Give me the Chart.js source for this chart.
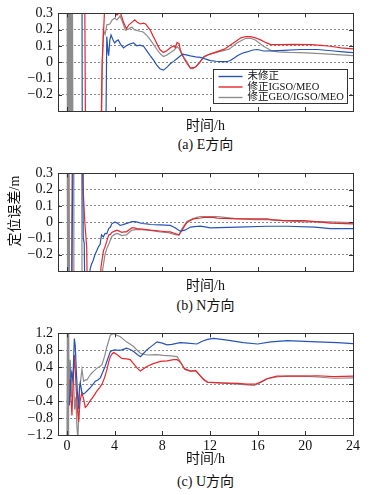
<!DOCTYPE html>
<html lang="zh">
<head>
    <meta charset="utf-8" />
    <title>定位误差</title>
    <style>
        body { margin: 0; background: #fff; }
        #fig { position: relative; width: 376px; height: 495px; background: #fff;
               font-family: "Liberation Serif", "Noto Sans CJK SC", serif; color: #111; }
        #fig canvas { position: absolute; left: 0; }
        .caption { position: absolute; left: 58px; width: 295px; text-align: center;
                   font-size: 14px; line-height: 16px; }
        .ytitle { position: absolute; left: -35px; top: 203px; width: 100px; height: 16px;
                  line-height: 16px; font-size: 14px; text-align: center; transform: rotate(-90deg); }
    </style>
</head>
<body>
    <div id="fig">
        <canvas id="cE" width="376" height="135" style="top:0"></canvas>
        <canvas id="cN" width="376" height="135" style="top:160px"></canvas>
        <canvas id="cU" width="376" height="150" style="top:320px"></canvas>
        <div class="caption" style="top:137px">(a) E方向</div>
        <div class="caption" style="top:298px">(b) N方向</div>
        <div class="caption" style="top:474px">(c) U方向</div>
        <div class="ytitle">定位误差/m</div>
    </div>

    <script src="https://cdn.jsdelivr.net/npm/chart.js@4.4.0/dist/chart.umd.min.js"></script>
    <script>
        // series names
        const seriesNames = ["未修正", "修正IGSO/MEO", "修正GEO/IGSO/MEO"];

        // time axis (h)
        const xTicks = [0, 4, 8, 12, 16, 20, 24];
        const xTickLabels = ["0", "4", "8", "12", "16", "20", "24"];

        // y ticks
        const enTicks = [-0.3, -0.2, -0.1, 0, 0.1, 0.2, 0.3];
        const enTickLabels = ["", "\u22120.2", "\u22120.1", "0", "0.1", "0.2", "0.3"];
        const uTicks = [-1.2, -0.8, -0.4, 0, 0.4, 0.8, 1.2];
        const uTickLabels = ["\u22121.2", "\u22120.8", "\u22120.4", "0", "0.4", "0.8", "1.2"];

        // E direction [t, error]
        const eBlue = [[0,1],[1.25,1],[1.3,-1],[3.2,-1],[3.34,0.157],[3.45,0.06],[3.5,0.04],[3.6,0.137],[3.7,0.167],
            [3.85,0.14],[4.0,0.118],[4.15,0.13],[4.3,0.137],[4.5,0.11],[4.75,0.088],[4.95,0.1],[5.17,0.108],[5.4,0.115],
            [5.6,0.118],[5.87,0.1],[6.1,0.105],[6.43,0.098],[6.7,0.07],[7.0,0.039],[7.3,0.01],[7.55,-0.02],[7.8,-0.04],
            [8.1,-0.049],[8.4,-0.03],[8.67,-0.01],[8.95,0.005],[9.2,0.02],[9.45,0.035],[9.7,0.05],[10.0,0.045],[10.36,0.039],
            [10.8,0.033],[11.2,0.03],[11.6,0.02],[12.04,0.01],[12.5,0.006],[12.9,0.004],[13.4,0.003],[13.7,0.01],[14.0,0.025],
            [14.3,0.04],[14.7,0.055],[15.1,0.063],[15.6,0.075],[16.0,0.078],[16.5,0.069],[17.2,0.07],[18.2,0.073],[19.6,0.078],
            [21.0,0.078],[22.4,0.069],[23.2,0.064],[24.0,0.059]];
        const eRed = [[0,1],[1.45,1],[1.6,-1],[2.75,-1],[2.95,0.0],[3.15,0.31],[3.5,0.34],[3.9,0.32],[4.2,0.29],[4.45,0.31],
            [4.6,0.28],[4.75,0.245],[4.9,0.22],[5.0,0.206],[5.2,0.23],[5.45,0.245],[5.7,0.26],[5.9,0.245],[6.15,0.235],[6.4,0.24],
            [6.6,0.235],[6.8,0.215],[7.0,0.196],[7.2,0.165],[7.4,0.137],[7.6,0.105],[7.8,0.078],[8.1,0.06],[8.3,0.068],[8.5,0.078],
            [8.7,0.09],[8.95,0.1],[9.1,0.09],[9.24,0.12],[9.4,0.115],[9.5,0.08],[9.65,0.05],[9.85,0.02],[10.1,-0.01],[10.36,-0.035],
            [10.5,-0.035],[10.8,-0.03],[11.1,-0.005],[11.5,0.035],[12.0,0.05],[12.6,0.065],[13.2,0.08],[13.6,0.1],[14.0,0.12],
            [14.6,0.15],[15.0,0.158],[15.4,0.157],[15.8,0.15],[16.25,0.137],[16.7,0.12],[17.1,0.108],[17.9,0.108],[19.0,0.11],
            [20.5,0.108],[21.3,0.104],[22.1,0.098],[23.0,0.088],[24.0,0.082]];
        const eGray = [[0,1],[0.06,-1],[0.13,1],[0.2,-1],[0.28,1],[0.36,-1],[0.44,1],[0.52,-1],[2.8,-1],[2.95,-0.1],[3.05,0.2],
            [3.2,0.17],[3.35,0.23],[3.6,0.235],[3.8,0.26],[4.0,0.27],[4.2,0.26],[4.46,0.284],[4.7,0.24],[4.9,0.196],[5.2,0.205],
            [5.45,0.216],[5.65,0.2],[5.87,0.196],[6.1,0.19],[6.4,0.186],[6.7,0.165],[7.0,0.137],[7.3,0.105],[7.55,0.078],[7.85,0.05],
            [8.1,0.035],[8.4,0.045],[8.7,0.059],[9.0,0.075],[9.24,0.095],[9.4,0.085],[9.66,0.045],[10.1,0.0],[10.36,-0.04],
            [10.6,-0.04],[10.9,-0.02],[11.5,0.03],[12.0,0.05],[12.8,0.065],[13.6,0.08],[14.3,0.12],[15.0,0.147],[15.4,0.147],
            [15.8,0.137],[16.5,0.098],[17.2,0.069],[17.7,0.063],[18.6,0.06],[19.6,0.059],[21.3,0.053],[23.0,0.045],[24.0,0.04]];

        // N direction [t, error]
        const nBlue = [[0.3,-1],[0.6,1],[1.25,1],[1.37,-0.098],[1.45,-0.13],[1.6,-1],[1.9,-1],[1.94,-0.29],[2.05,-0.26],
            [2.2,-0.235],[2.35,-0.2],[2.5,-0.176],[2.65,-0.15],[2.78,-0.137],[2.9,-0.078],[3.05,-0.09],[3.2,-0.069],[3.35,-0.07],
            [3.5,-0.039],[3.65,-0.03],[3.76,-0.01],[4.0,0.0],[4.2,-0.004],[4.46,-0.02],[4.7,-0.015],[4.9,-0.01],[5.2,-0.003],
            [5.45,0.004],[5.7,0.004],[5.9,0.0],[6.3,-0.008],[6.7,-0.01],[7.0,-0.014],[7.8,-0.016],[8.67,-0.02],[8.95,-0.03],
            [9.2,-0.04],[9.5,-0.055],[9.9,-0.049],[10.36,-0.03],[10.7,-0.027],[11.2,-0.024],[11.7,-0.03],[12.04,-0.035],
            [14.3,-0.03],[16.8,-0.025],[18.5,-0.025],[20.8,-0.03],[22.1,-0.039],[24.0,-0.04]];
        const nRed = [[0,-1],[0.35,-1],[0.42,0.02],[0.48,1],[1.3,1],[1.37,0.186],[1.5,0.0],[1.66,-0.157],[1.8,-1],[2.75,-1],
            [2.85,-0.28],[3.06,-0.176],[3.2,-0.15],[3.34,-0.118],[3.5,-0.078],[3.65,-0.075],[3.76,-0.063],[4.0,-0.055],
            [4.2,-0.049],[4.4,-0.055],[4.6,-0.063],[4.8,-0.06],[5.0,-0.059],[5.25,-0.045],[5.45,-0.035],[5.65,-0.035],
            [5.87,-0.039],[6.3,-0.043],[7.0,-0.049],[7.8,-0.054],[8.4,-0.059],[8.67,-0.06],[9.0,-0.068],[9.4,-0.078],
            [9.66,-0.049],[9.9,-0.02],[10.1,0.0],[10.36,0.01],[10.6,0.02],[11.2,0.026],[11.5,0.03],[12.3,0.03],[12.6,0.025],
            [14.3,0.02],[16.8,0.02],[17.1,0.016],[18.2,0.01],[19.9,0.01],[21.3,0.0],[22.1,-0.006],[24.0,-0.01]];
        const nGray = [[0,1],[0.08,-1],[0.16,1],[0.24,-1],[0.52,-1],[0.58,1],[1.2,1],[1.3,-1],[2.7,-1],[3.0,-0.29],
            [3.2,-0.196],[3.35,-0.16],[3.5,-0.137],[3.65,-0.11],[3.76,-0.088],[4.0,-0.075],[4.2,-0.069],[4.4,-0.075],
            [4.6,-0.082],[4.8,-0.08],[5.0,-0.078],[5.25,-0.06],[5.45,-0.049],[5.8,-0.046],[6.1,-0.045],[7.0,-0.05],
            [7.8,-0.059],[8.5,-0.065],[9.2,-0.078],[9.4,-0.08],[9.66,-0.039],[10.06,0.005],[10.6,0.022],[10.9,0.03],
            [11.2,0.035],[11.5,0.035],[12.6,0.035],[14.0,0.024],[15.7,0.016],[16.8,0.016],[18.5,0.008],[19.9,0.002],
            [21.3,0.004],[24.0,-0.003]];

        // U direction [t, error]
        const uBlue = [[0.2,-0.5],[0.35,0.3],[0.5,0.1],[0.62,1.08],[0.7,0.9],[0.78,0.35],[0.88,-0.2],[0.97,-0.58],[1.05,-0.1],
            [1.12,0.03],[1.26,-0.2],[1.4,-0.23],[1.55,-0.2],[1.68,-0.16],[1.96,-0.08],[2.2,0.0],[2.38,0.07],[2.6,0.1],[2.8,0.15],
            [3.0,0.28],[3.2,0.42],[3.45,0.62],[3.64,0.77],[3.85,0.8],[4.06,0.81],[4.3,0.8],[4.6,0.81],[4.8,0.83],[5.0,0.85],
            [5.3,0.82],[5.6,0.77],[5.9,0.7],[6.16,0.65],[6.4,0.72],[6.7,0.81],[7.1,0.9],[7.56,1.0],[8.0,0.97],[8.4,0.93],
            [8.8,0.94],[9.5,0.98],[10.1,0.97],[10.9,0.95],[11.4,1.02],[11.8,1.06],[12.3,1.08],[13.45,1.04],[14.8,0.98],
            [16.0,0.95],[17.1,1.0],[18.5,1.03],[21.0,1.0],[22.7,0.98],[24.0,0.96]];
        const uRed = [[0.25,0.1],[0.42,-0.74],[0.55,0.3],[0.62,0.69],[0.72,0.2],[0.85,-0.5],[0.98,-0.89],[1.1,-0.4],[1.25,-0.2],
            [1.4,-0.35],[1.54,-0.55],[1.7,-0.5],[1.96,-0.39],[2.2,-0.3],[2.52,-0.16],[2.75,-0.08],[2.94,0.0],[3.15,0.15],
            [3.36,0.35],[3.5,0.52],[3.64,0.65],[3.8,0.72],[3.92,0.75],[4.2,0.7],[4.6,0.61],[5.0,0.6],[5.3,0.58],[5.6,0.48],
            [5.9,0.38],[6.16,0.31],[6.4,0.36],[6.7,0.42],[7.2,0.48],[7.84,0.54],[8.4,0.55],[8.96,0.58],[9.24,0.58],[9.4,0.55],
            [9.66,0.46],[9.9,0.35],[10.36,0.31],[10.8,0.32],[11.2,0.19],[11.5,0.1],[11.8,0.05],[12.9,0.03],[14.3,0.02],
            [15.1,0.0],[15.8,0.0],[16.25,0.05],[16.8,0.13],[17.6,0.19],[19.9,0.19],[21.0,0.2],[22.4,0.18],[24.0,0.19]];
        const uGray = [[0,-1.5],[0.04,1.5],[0.09,-1.5],[0.14,1.5],[0.19,-0.4],[0.28,0.58],[0.36,-0.3],[0.45,0.3],[0.55,0.1],
            [0.65,-0.6],[0.75,-0.3],[0.83,-0.97],[0.92,-1.3],[1.05,-0.2],[1.15,0.1],[1.26,0.35],[1.4,0.07],[1.55,0.1],
            [1.68,0.1],[1.9,0.2],[2.1,0.27],[2.3,0.32],[2.52,0.38],[2.75,0.42],[2.94,0.46],[3.15,0.65],[3.36,0.89],[3.5,1.02],
            [3.64,1.16],[3.92,1.2],[4.1,1.17],[4.48,1.12],[5.0,1.0],[5.6,0.89],[5.9,0.8],[6.16,0.73],[6.7,0.69],[7.5,0.7],
            [8.1,0.68],[8.7,0.67],[9.24,0.65],[9.5,0.54],[9.8,0.38],[10.36,0.31],[10.8,0.32],[11.4,0.14],[11.8,0.04],
            [12.9,0.03],[14.3,0.0],[15.7,-0.03],[16.1,0.02],[16.8,0.13],[17.6,0.17],[18.5,0.19],[19.9,0.19],[21.0,0.17],
            [22.4,0.14],[24.0,0.15]];

        const colors = ["#2754b4", "#e8262c", "#8c8c8c"];
        const fontFamily = '"Liberation Serif", "Noto Sans CJK SC", serif';
        Chart.defaults.font.family = fontFamily;
        Chart.defaults.color = "#111";

        const toPoints = arr => arr.map(p => ({ x: p[0], y: p[1] }));

        // frame + inward tick marks
        const framePlugin = {
            id: "frame",
            afterDatasetsDraw(chart) {
                const { ctx, chartArea: a, scales } = chart;
                ctx.save();
                ctx.strokeStyle = "#333";
                ctx.lineWidth = 1;
                ctx.beginPath();
                scales.x.ticks.forEach(t => {
                    const px = Math.round(scales.x.getPixelForValue(t.value)) + 0.5;
                    ctx.moveTo(px, a.top); ctx.lineTo(px, a.top + 4);
                    ctx.moveTo(px, a.bottom); ctx.lineTo(px, a.bottom - 4);
                });
                scales.y.ticks.forEach(t => {
                    const py = Math.round(scales.y.getPixelForValue(t.value)) + 0.5;
                    ctx.moveTo(a.left, py); ctx.lineTo(a.left + 4, py);
                    ctx.moveTo(a.right, py); ctx.lineTo(a.right - 4, py);
                });
                ctx.stroke();
                ctx.strokeRect(Math.round(a.left) + 0.5, Math.round(a.top) + 0.5,
                    Math.round(a.right - a.left), Math.round(a.bottom - a.top));
                ctx.restore();
            }
        };

        // legend box inside the plot
        const boxLegend = {
            id: "boxLegend",
            afterDraw(chart, args, opts) {
                if (!opts.show) return;
                const { ctx, chartArea: a } = chart;
                const w = 134, h = 34;
                const x0 = Math.round(a.right - 6 - w) + 0.5, y0 = Math.round(a.bottom - 8 - h) + 0.5;
                ctx.save();
                ctx.fillStyle = "#fff";
                ctx.fillRect(x0, y0, w, h);
                ctx.strokeStyle = "#333";
                ctx.lineWidth = 1;
                ctx.strokeRect(x0, y0, w, h);
                ctx.font = "10.5px " + fontFamily;
                ctx.textBaseline = "middle";
                chart.data.datasets.forEach((ds, i) => {
                    const y = y0 + 7 + i * 10.5;
                    ctx.strokeStyle = ds.borderColor;
                    ctx.lineWidth = 1.4;
                    ctx.beginPath();
                    ctx.moveTo(x0 + 5, y); ctx.lineTo(x0 + 29, y);
                    ctx.stroke();
                    ctx.fillStyle = "#111";
                    ctx.fillText(ds.label, x0 + 34, y);
                });
                ctx.restore();
            }
        };

        function makeChart(id, series, yMin, yMax, yTicks, yLabels, opt) {
            return new Chart(document.getElementById(id), {
                type: "line",
                data: {
                    datasets: series.map((s, i) => ({
                        label: seriesNames[i],
                        data: toPoints(s),
                        borderColor: colors[i],
                        borderWidth: 1.2,
                        pointRadius: 0,
                        tension: 0,
                        fill: false
                    }))
                },
                options: {
                    responsive: false,
                    animation: false,
                    layout: { padding: { top: opt.top, right: 23, left: 0, bottom: 0 } },
                    plugins: {
                        legend: { display: false },
                        tooltip: { enabled: false },
                        boxLegend: { show: !!opt.legend }
                    },
                    scales: {
                        x: {
                            type: "linear",
                            min: -0.75,
                            max: 24,
                            afterBuildTicks: s => { s.ticks = xTicks.map(v => ({ value: v })); },
                            afterFit: s => { s.height = opt.xh; },
                            grid: { display: false, drawTicks: false },
                            border: { display: false },
                            ticks: {
                                display: !!opt.xLabels,
                                autoSkip: false,
                                padding: 3,
                                maxRotation: 0,
                                font: { size: 14 },
                                callback: (v, i) => xTickLabels[i]
                            },
                            title: {
                                display: true,
                                text: "时间/h",
                                font: { size: 14 },
                                padding: { top: 0, bottom: opt.titlePad }
                            }
                        },
                        y: {
                            min: yMin,
                            max: yMax,
                            afterBuildTicks: s => { s.ticks = yTicks.map(v => ({ value: v })); },
                            afterFit: s => { s.width = 58; },
                            grid: { color: "#8a8a8a", lineWidth: 1, drawTicks: false },
                            border: { display: false, dash: [2, 2] },
                            ticks: {
                                autoSkip: false,
                                padding: 5,
                                font: { size: 14 },
                                callback: (v, i) => yLabels[i]
                            }
                        }
                    }
                },
                plugins: [framePlugin, boxLegend]
            });
        }

        makeChart("cE", [eBlue, eRed, eGray], -0.3, 0.3, enTicks, enTickLabels,
            { top: 9, xh: 24, titlePad: 0, legend: true });
        makeChart("cN", [nBlue, nRed, nGray], -0.3, 0.3, enTicks, enTickLabels,
            { top: 9, xh: 24, titlePad: 0 });
        makeChart("cU", [uBlue, uRed, uGray], -1.2, 1.2, uTicks, uTickLabels,
            { top: 11.5, xh: 35, titlePad: 2, xLabels: true });
    </script>
</body>
</html>
